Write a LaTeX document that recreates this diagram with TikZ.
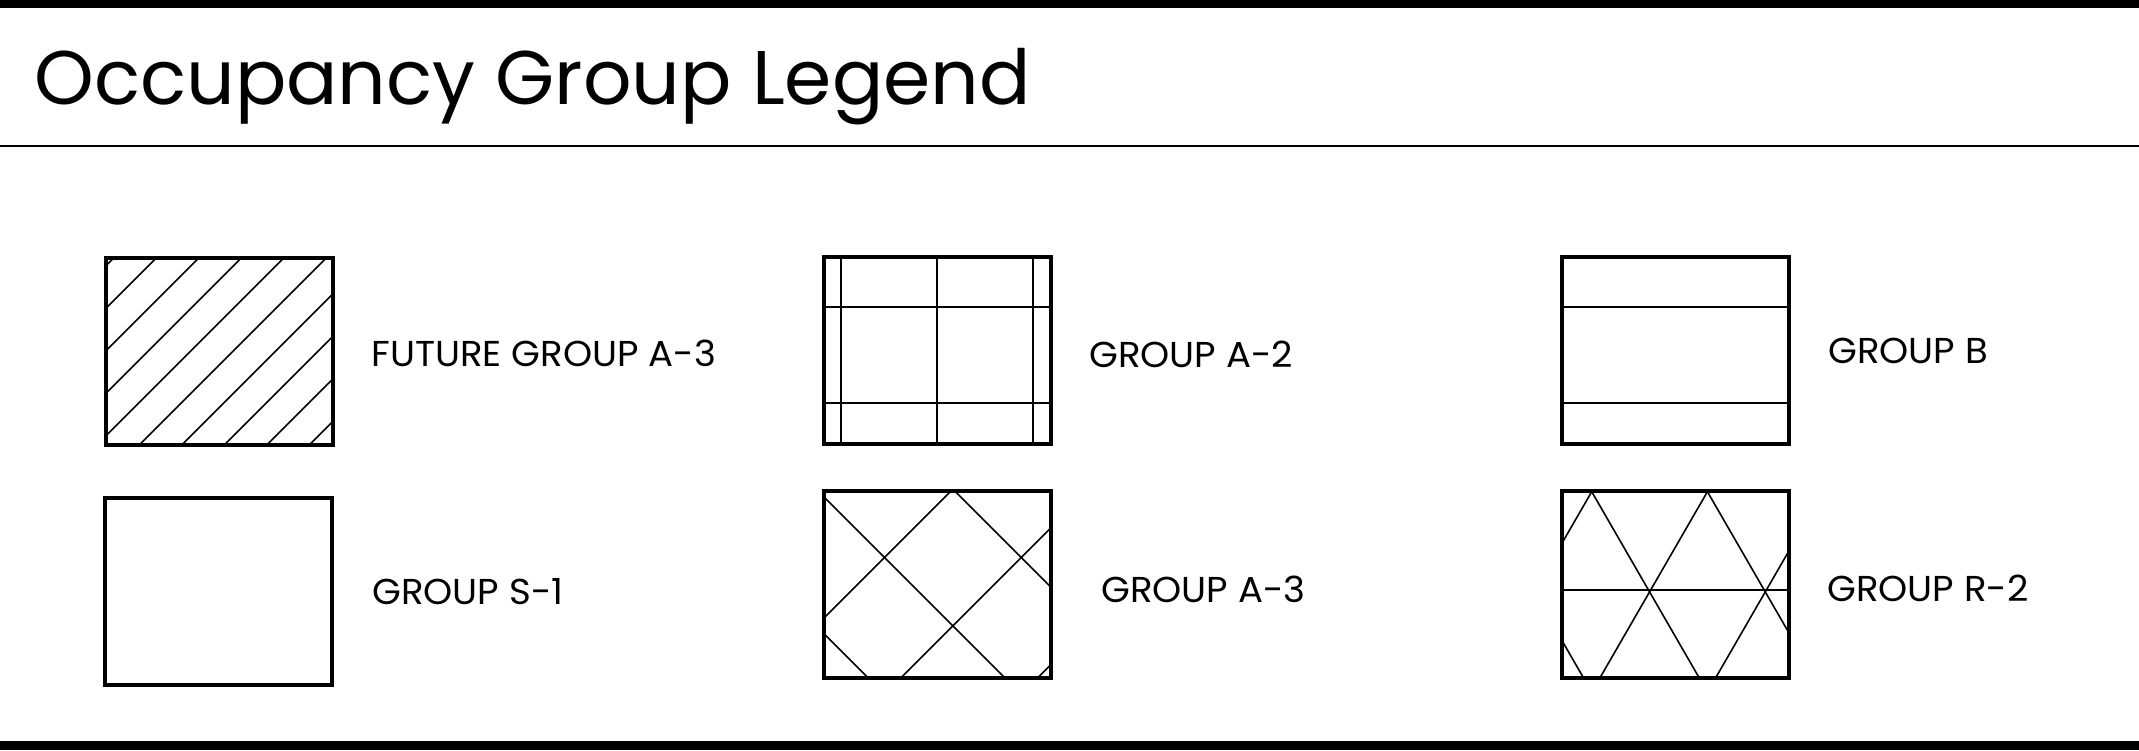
\documentclass[tikz,border=0pt]{standalone}
\usepackage{fontspec}
\setmainfont{Poppins}
\newfontfamily\widepop[FakeStretch=1.03]{Poppins}
\begin{document}
\begin{tikzpicture}[x=0.5pt,y=-0.5pt,
  legbox/.style={draw=black,line width=2pt,minimum width=113.5pt,minimum height=93.5pt,inner sep=0pt,outer sep=0pt},
  hatchline/.style={line width=0.8pt,black},
  legtext/.style={anchor=base west,inner sep=0pt,font=\widepop\fontsize{18}{21}\selectfont},
  ]
\useasboundingbox (0,0) rectangle (2139,750);
\fill[white] (0,0) rectangle (2139,750);
% bars
\fill[black] (0,0) rectangle (2139,8);
\fill[black] (0,741) rectangle (2139,750);
\draw[line width=0.75pt] (0,146) -- (2139,146);
% title
\node[anchor=base west,inner sep=0pt,font=\fontsize{38}{46}\selectfont] (title) at (34,104) {Occupancy Group Legend};

% box 1: diagonal hatch
\node[legbox] (b1) at (219,351) {};
\begin{scope}
  \clip (b1.south west) rectangle (b1.north east);
  \foreach \k in {0,...,9}{
    \pgfmathsetmacro{\c}{371.7+42.5*\k}
    \draw[hatchline] ({\c-200},200) -- ({\c-500},500);
  }
\end{scope}
\node[legbox] (b1b) at (219,351) {};
\node[legtext] (t1) at (371,366) {FUTURE GROUP A-3};

% box 2: grid
\node[legbox] (b2) at (937,350.5) {};
\begin{scope}
  \clip (b2.south west) rectangle (b2.north east);
  \foreach \x in {841,937,1033}{\draw[hatchline] (\x,200) -- (\x,500);}
  \foreach \y in {307,403}{\draw[hatchline] (800,\y) -- (1100,\y);}
\end{scope}
\node[legbox] (b2b) at (937,350.5) {};
\node[legtext] (t2) at (1089,367) {GROUP A-2};

% box 3: horizontal lines
\node[legbox] (b3) at (1675.5,350.5) {};
\begin{scope}
  \clip (b3.south west) rectangle (b3.north east);
  \foreach \y in {307,403}{\draw[hatchline] (1540,\y) -- (1810,\y);}
\end{scope}
\node[legbox] (b3b) at (1675.5,350.5) {};
\node[legtext] (t3) at (1828,363) {GROUP B};

% box 4: empty
\node[legbox] (b4) at (218.5,591.5) {};
\node[legtext] (t4) at (372,604) {GROUP S-1};

% box 5: diamond hatch
\node[legbox] (b5) at (937.5,584) {};
\begin{scope}
  \clip (b5.south west) rectangle (b5.north east);
  \foreach \d in {-463.7,-327,-190.3}{\draw[hatchline] (700,{700+\d}) -- (1200,{1200+\d});}
  \foreach \s in {1442,1578.7,1715.4}{\draw[hatchline] (700,{\s-700}) -- (1200,{\s-1200});}
\end{scope}
\node[legbox] (b5b) at (937.5,584) {};
\node[legtext] (t5) at (1101,602) {GROUP A-3};

% box 6: triangle hatch
\node[legbox] (b6) at (1675.5,584) {};
\begin{scope}
  \clip (b6.south west) rectangle (b6.north east);
  \draw[hatchline] (1500,590) -- (1850,590);
  \foreach \x in {1476,1591.7,1707.4}{\draw[hatchline] ({\x-57.7},391.7) -- ({\x+173.2},791.7);}
  \foreach \x in {1591.7,1707.4,1823.1}{\draw[hatchline] ({\x+57.7},391.7) -- ({\x-173.2},791.7);}
\end{scope}
\node[legbox] (b6b) at (1675.5,584) {};
\node[legtext] (t6) at (1827,601) {GROUP R-2};
\end{tikzpicture}
\end{document}
